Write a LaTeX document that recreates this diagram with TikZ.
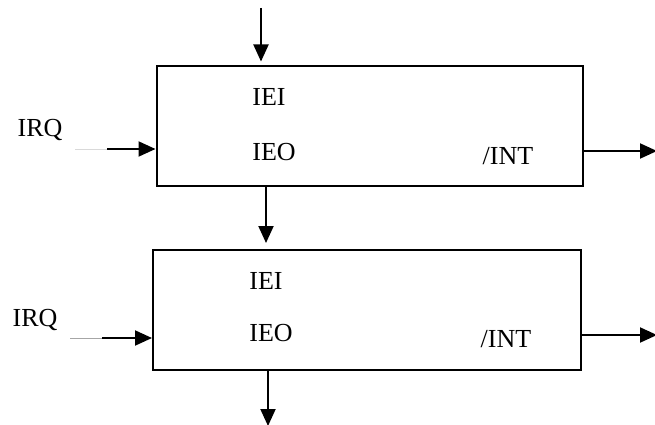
\documentclass[tikz,border=0pt]{standalone}
\usepackage{fontspec}
\setmainfont{Liberation Serif}
\usetikzlibrary{arrows.meta}

\tikzset{
  block/.style={draw,line width=2pt,inner sep=0pt,anchor=north west},
  lbl/.style={anchor=base,inner sep=0pt,font=\fontsize{26}{30}\selectfont},
  sig/.style={line width=2pt,-{Triangle[length=17pt,width=15pt]}}
}

\begin{document}
\begin{tikzpicture}[x=1pt,y=-1pt]
\useasboundingbox (0,0) rectangle (655,425);

% the two blocks
\node[block,minimum width=426.5pt,minimum height=119.5pt] (box1) at (155.5,65.5) {};
\node[block,minimum width=428pt,minimum height=120pt] (box2) at (152,249) {};

% texts
\node[lbl] (irq1) at (40,136) {IRQ};
\node[lbl] (iei1) at (269,106) {IEI};
\node[lbl] (ieo1) at (274,160) {IEO};
\node[lbl] (int1) at (508,164) {/INT};

\node[lbl] (irq2) at (35,326) {IRQ};
\node[lbl] (iei2) at (266,289) {IEI};
\node[lbl] (ieo2) at (271,341) {IEO};
\node[lbl] (int2) at (506,347) {/INT};

% daisy chain
\coordinate (chainin) at (261,8);
\coordinate (chainout) at (268,426);
\draw[sig,shorten >=4pt] (chainin) -- (chainin |- box1.north);
\draw[sig,shorten >=6pt] (box1.south -| 266,0) -- (box2.north -| 266,0);
\draw[sig] (box2.south -| chainout) -- (chainout);

% irq inputs
\coordinate (src1) at (75,149);
\coordinate (in1) at (107,149);
\draw[gray!30,very thin] (src1) -- (in1);
\draw[sig] (in1) -- (in1 -| box1.west);
\coordinate (src2) at (70,338);
\coordinate (in2) at (102,338);
\draw[gray!70,line width=0.8pt] (src2) -- (in2);
\draw[sig] (in2) -- (in2 -| box2.west);

% int outputs
\coordinate (out1) at (657,151);
\coordinate (out2) at (657,335);
\draw[sig] (box1.east |- out1) -- (out1);
\draw[sig] (box2.east |- out2) -- (out2);
\end{tikzpicture}
\end{document}
